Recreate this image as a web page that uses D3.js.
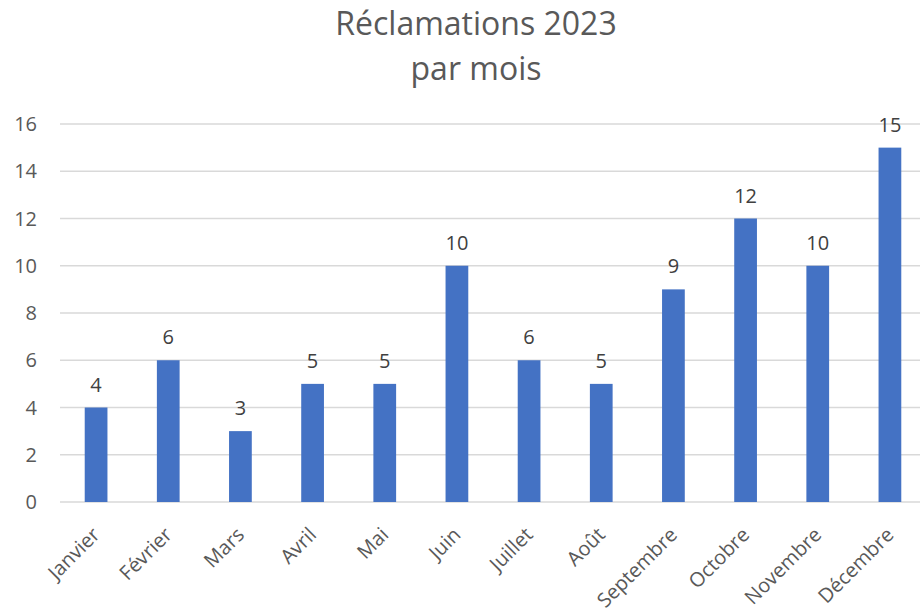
<!DOCTYPE html>
<meta charset="utf-8">
<style>
  body { margin: 0; background: #fff; }
  svg { font-family: "Open Sans", "Noto Sans", sans-serif; }
  .grid line { stroke: #d9d9d9; stroke-width: 1.3; }
  .ylab { fill: #595959; font-size: 20px; }
  .xlab { fill: #595959; font-size: 20px; }
  .vlab { fill: #404040; font-size: 20px; }
  .title { fill: #595959; font-size: 32px; }
</style>
<body>
<div id="chart"></div>
<script src="https://d3js.org/d3.v7.min.js"></script>
<script>
  var months = ["Janvier", "Février", "Mars", "Avril", "Mai", "Juin", "Juillet", "Août",
                "Septembre", "Octobre", "Novembre", "Décembre"];
  var counts = [4, 6, 3, 5, 5, 10, 6, 5, 9, 12, 10, 15];
  var yTicks = [0, 2, 4, 6, 8, 10, 12, 14, 16];
  var titleLines = ["Réclamations 2023", "par mois"];

  var width = 920, height = 608;
  var plotLeft = 60, plotRight = 926, plotTop = 124, plotBottom = 502;

  var svg = d3.select("#chart").append("svg")
          .attr("width", width)
          .attr("height", height);

  var x = d3.scaleBand().domain(months).range([plotLeft, plotRight]).paddingInner(0.685).paddingOuter(0.3425);
  var y = d3.scaleLinear().domain([0, 16]).range([plotBottom, plotTop]);

  // title
  svg.selectAll("text.title").data(titleLines).enter()
          .append("text")
          .attr("class", "title")
          .attr("x", 476)
          .attr("y", function(d, i){ return 35 + i * 45; })
          .attr("text-anchor", "middle")
          .text(function(d){ return d; });

  // gridlines
  svg.append("g").attr("class", "grid")
          .selectAll("line").data(yTicks).enter()
          .append("line")
          .attr("x1", plotLeft).attr("x2", width)
          .attr("y1", function(d){ return y(d); })
          .attr("y2", function(d){ return y(d); });

  svg.selectAll("text.ylab").data(yTicks).enter()
          .append("text")
          .attr("class", "ylab")
          .attr("x", 37)
          .attr("y", function(d){ return y(d); })
          .attr("dy", "0.35em")
          .attr("text-anchor", "end")
          .text(function(d){ return d; });

  // bars
  svg.selectAll("rect.bar").data(months).enter()
          .append("rect")
          .attr("class", "bar")
          .attr("fill", "#4472c4")
          .attr("x", function(d){ return x(d); })
          .attr("width", x.bandwidth())
          .attr("y", function(d, i){ return y(counts[i]); })
          .attr("height", function(d, i){ return plotBottom - y(counts[i]); });

  svg.selectAll("text.vlab").data(months).enter()
          .append("text")
          .attr("class", "vlab")
          .attr("x", function(d){ return x(d) + x.bandwidth() / 2; })
          .attr("y", function(d, i){ return y(counts[i]) - 16; })
          .attr("text-anchor", "middle")
          .text(function(d, i){ return counts[i]; });

  // month labels, rotated
  svg.selectAll("text.xlab").data(months).enter()
          .append("text")
          .attr("class", "xlab")
          .attr("text-anchor", "end")
          .attr("transform", function(d){
            var cx = x(d) + x.bandwidth() / 2;
            return "translate(" + (cx + 5) + "," + 536 + ") rotate(-45)";
          })
          .text(function(d){ return d; });
</script>
</body>
